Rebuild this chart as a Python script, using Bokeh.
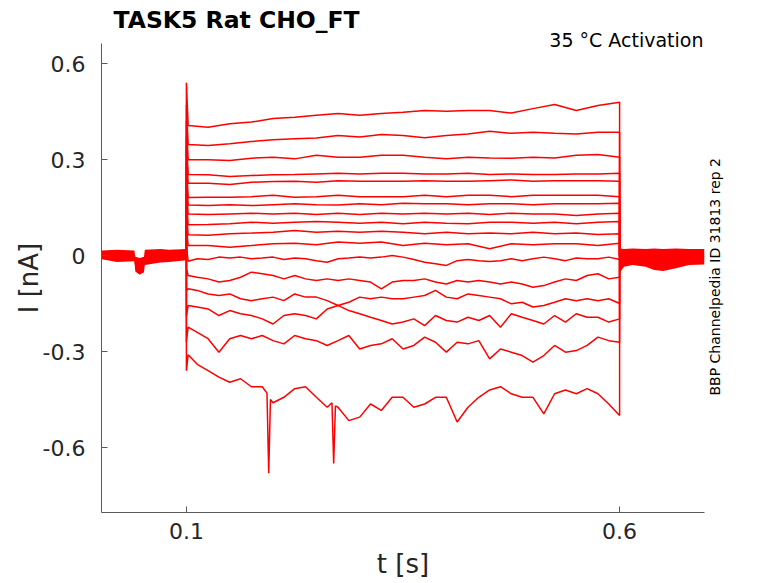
from bokeh.plotting import figure
from bokeh.models import Range1d, FixedTicker, ColumnDataSource, Title, LinearAxis
from bokeh.embed import file_html
from bokeh.resources import INLINE
import math

# ---------------- data ----------------
T_ON = 0.1
T_OFF = 0.6

# coarse time grid (small, smooth steps)
t_step = [0.102, 0.125, 0.150, 0.175, 0.200, 0.225, 0.250, 0.275, 0.300, 0.325,
          0.350, 0.375, 0.400, 0.425, 0.450, 0.475, 0.500, 0.525, 0.550, 0.575, 0.600]

# fine time grid (noisier, larger steps)
t_fine = [0.102, 0.1125, 0.125, 0.1375, 0.150, 0.1625, 0.175, 0.1875, 0.200, 0.2125,
          0.225, 0.2375, 0.250, 0.2625, 0.275, 0.2875, 0.300, 0.3125, 0.325, 0.3375,
          0.350, 0.3625, 0.375, 0.3875, 0.400, 0.4125, 0.425, 0.4375, 0.450, 0.4625,
          0.475, 0.4875, 0.500, 0.5125, 0.525, 0.5375, 0.550, 0.5625, 0.575, 0.5875, 0.600]

spike_on = [0.54, 0.47, 0.42, 0.37, 0.34, 0.29, 0.26, 0.22, 0.18, 0.14, 0.09,
            0.03, -0.04, -0.11, -0.19, -0.27, -0.36]

trace_01 = [0.406, 0.401, 0.412, 0.417, 0.428, 0.432, 0.438, 0.444, 0.438, 0.444, 0.448, 0.453, 0.451, 0.453, 0.453, 0.445, 0.459, 0.472, 0.453, 0.469, 0.479]
trace_02 = [0.347, 0.344, 0.349, 0.356, 0.362, 0.365, 0.367, 0.375, 0.370, 0.378, 0.375, 0.368, 0.375, 0.380, 0.388, 0.382, 0.385, 0.382, 0.380, 0.385, 0.385]
trace_03 = [0.299, 0.299, 0.297, 0.304, 0.307, 0.302, 0.313, 0.307, 0.307, 0.313, 0.313, 0.307, 0.302, 0.307, 0.305, 0.304, 0.307, 0.305, 0.313, 0.316, 0.307]
trace_04 = [0.253, 0.252, 0.247, 0.250, 0.252, 0.253, 0.255, 0.257, 0.255, 0.257, 0.257, 0.255, 0.255, 0.257, 0.253, 0.255, 0.253, 0.253, 0.255, 0.255, 0.257]
trace_05 = [0.226, 0.226, 0.222, 0.229, 0.231, 0.232, 0.229, 0.234, 0.232, 0.232, 0.232, 0.234, 0.232, 0.232, 0.234, 0.236, 0.232, 0.234, 0.234, 0.234, 0.232]
trace_06 = [0.181, 0.182, 0.182, 0.184, 0.188, 0.182, 0.184, 0.188, 0.184, 0.184, 0.184, 0.188, 0.184, 0.188, 0.188, 0.184, 0.188, 0.188, 0.188, 0.188, 0.184]
trace_07 = [0.158, 0.156, 0.159, 0.156, 0.159, 0.162, 0.159, 0.158, 0.162, 0.159, 0.163, 0.162, 0.162, 0.159, 0.162, 0.162, 0.159, 0.162, 0.162, 0.162, 0.163]
trace_08 = [0.130, 0.128, 0.130, 0.132, 0.130, 0.132, 0.128, 0.132, 0.128, 0.132, 0.130, 0.132, 0.130, 0.132, 0.128, 0.132, 0.130, 0.130, 0.125, 0.130, 0.132]
trace_09 = [0.096, 0.097, 0.099, 0.104, 0.101, 0.104, 0.106, 0.104, 0.101, 0.104, 0.099, 0.104, 0.101, 0.099, 0.104, 0.104, 0.101, 0.104, 0.099, 0.104, 0.106]
trace_10 = [0.065, 0.063, 0.068, 0.070, 0.073, 0.078, 0.073, 0.076, 0.073, 0.076, 0.073, 0.068, 0.073, 0.068, 0.070, 0.068, 0.073, 0.068, 0.070, 0.066, 0.068]
trace_11 = [0.031, 0.031, 0.026, 0.031, 0.037, 0.038, 0.034, 0.042, 0.038, 0.042, 0.031, 0.038, 0.034, 0.037, 0.021, 0.037, 0.034, 0.037, 0.037, 0.031, 0.038]

trace_12 = [-0.018, -0.010, -0.0125, -0.005, -0.008, -0.005, -0.010, -0.008, -0.005, -0.0125, -0.008,
            -0.010, -0.016, -0.021, -0.010, -0.008, -0.005, -0.008, -0.005, 0.000, -0.005,
            -0.0125, -0.021, -0.026, -0.031, -0.016, -0.0125, -0.016, -0.019, -0.016, -0.010,
            -0.016, -0.010, -0.005, -0.010, -0.016, -0.008, -0.010, -0.010, -0.005, -0.0125]
trace_13 = [-0.0625, -0.068, -0.073, -0.083, -0.078, -0.068, -0.052, -0.057, -0.0625, -0.073, -0.0625,
            -0.073, -0.078, -0.073, -0.078, -0.073, -0.078, -0.083, -0.104, -0.083, -0.078,
            -0.078, -0.073, -0.083, -0.089, -0.078, -0.083, -0.078, -0.083, -0.089, -0.083,
            -0.089, -0.099, -0.094, -0.083, -0.073, -0.078, -0.0625, -0.057, -0.073, -0.068]
trace_14 = [-0.104, -0.109, -0.120, -0.125, -0.120, -0.135, -0.141, -0.135, -0.130, -0.141, -0.120,
            -0.130, -0.130, -0.141, -0.156, -0.146, -0.130, -0.135, -0.130, -0.135, -0.135,
            -0.130, -0.125, -0.109, -0.130, -0.135, -0.120, -0.125, -0.130, -0.135, -0.151,
            -0.146, -0.161, -0.156, -0.146, -0.135, -0.141, -0.135, -0.141, -0.135, -0.150]
trace_15 = [-0.156, -0.161, -0.167, -0.1875, -0.172, -0.182, -0.1875, -0.198, -0.214, -0.1875, -0.182,
            -0.1875, -0.198, -0.167, -0.156, -0.172, -0.182, -0.193, -0.203, -0.214, -0.208,
            -0.198, -0.219, -0.1875, -0.203, -0.208, -0.193, -0.203, -0.1875, -0.224, -0.182,
            -0.193, -0.203, -0.214, -0.1875, -0.208, -0.182, -0.193, -0.193, -0.208, -0.198]
trace_16 = [-0.224, -0.240, -0.260, -0.302, -0.260, -0.250, -0.260, -0.250, -0.266, -0.276, -0.250,
            -0.260, -0.266, -0.281, -0.266, -0.250, -0.292, -0.281, -0.276, -0.260, -0.292,
            -0.281, -0.255, -0.271, -0.302, -0.271, -0.276, -0.266, -0.323, -0.292, -0.302,
            -0.3125, -0.333, -0.3125, -0.281, -0.302, -0.297, -0.281, -0.255, -0.266, -0.271]

# largest step: read at a finer time grid, including the two sharp dips
t_17 = [0.102, 0.1125, 0.125, 0.1375, 0.150, 0.1625, 0.175, 0.1875, 0.193, 0.195, 0.197,
        0.200, 0.2125, 0.225, 0.2375, 0.250, 0.2625, 0.268, 0.270, 0.272, 0.275, 0.2875,
        0.300, 0.3125, 0.325, 0.3375, 0.350, 0.3625, 0.375, 0.3875, 0.400, 0.4125, 0.425,
        0.4375, 0.450, 0.4625, 0.475, 0.4875, 0.500, 0.5125, 0.525, 0.5375, 0.550, 0.5625,
        0.575, 0.5875, 0.600]
trace_17 = [-0.310, -0.340, -0.360, -0.380, -0.396, -0.385, -0.410, -0.410, -0.430, -0.680, -0.450,
            -0.460, -0.443, -0.416, -0.410, -0.443, -0.474, -0.460, -0.650, -0.470, -0.474, -0.516,
            -0.505, -0.464, -0.484, -0.443, -0.443, -0.474, -0.464, -0.443, -0.443, -0.520, -0.474,
            -0.443, -0.420, -0.410, -0.432, -0.443, -0.443, -0.495, -0.432, -0.420, -0.432, -0.416,
            -0.432, -0.464, -0.500]

# holding-current noise band before and after the step
pre_t = [0.002, 0.020, 0.040, 0.041, 0.046, 0.051, 0.052, 0.070, 0.080, 0.100]
pre_hi = [0.016, 0.018, 0.016, -0.004, -0.008, -0.004, 0.018, 0.020, 0.018, 0.020]
pre_lo = [-0.012, -0.020, -0.018, -0.050, -0.060, -0.052, -0.030, -0.022, -0.020, -0.015]

post_t = [0.600, 0.605, 0.615, 0.630, 0.640, 0.650, 0.665, 0.680, 0.698]
post_hi = [0.022, 0.020, 0.022, 0.020, 0.022, 0.020, 0.022, 0.020, 0.020]
post_lo = [-0.055, -0.035, -0.030, -0.035, -0.045, -0.048, -0.040, -0.030, -0.028]

x_ticks = [0.1, 0.6]
y_ticks = [-0.6, -0.3, 0, 0.3, 0.6]
y_tick_labels = ["-0.6", "-0.3", "0", "0.3", "0.6"]

title_text = "TASK5  Rat  CHO_FT"
cond_text = "35 °C  Activation"
side_text = "BBP Channelpedia ID 31813 rep 2"
side_text_start = -0.4375   # current level where the vertical side note begins
x_label = "t [s]"
y_label = "I [nA]"

# ---------------- figure ----------------
FONT = "DejaVu Sans"
RED = "#ff0000"
AX = "#5a5a5a"
TXT = "#262626"

p = figure(width=778, height=583, output_backend="svg", toolbar_location=None,
           title=None,
           x_range=Range1d(0.002, 0.698), y_range=Range1d(-0.803, 0.6625),
           min_border_left=101, min_border_right=74, min_border_top=43,
           min_border_bottom=71)
p.outline_line_color = None
p.grid.visible = False
p.background_fill_color = "white"
p.border_fill_color = "white"

# inner title (closest to the frame) first, then the main title above it
cond_title = Title(text=cond_text, align="right", offset=-5, standoff=0,
                   text_font=FONT, text_font_size="19px", text_font_style="normal",
                   text_color="black")
main_title = Title(text=title_text, align="left", offset=12, standoff=0,
                   text_font=FONT, text_font_size="23.5px", text_font_style="bold",
                   text_color="black")
try:
    cond_title.standoff = -15
    main_title.standoff = 1
except Exception:
    pass
p.add_layout(cond_title, "above")
p.add_layout(main_title, "above")

for ax in (p.xaxis[0], p.yaxis[0]):
    ax.axis_line_color = AX
    ax.axis_line_width = 1
    ax.major_tick_line_color = AX
    ax.major_tick_in = 6
    ax.major_tick_out = 0
    ax.minor_tick_line_color = None
    ax.major_label_text_font = FONT
    ax.major_label_text_font_size = "22px"
    ax.major_label_text_color = TXT
    ax.axis_label_text_font = FONT
    ax.axis_label_text_font_size = "26px"
    ax.axis_label_text_font_style = "normal"
    ax.axis_label_text_color = TXT

p.xaxis.ticker = FixedTicker(ticks=x_ticks)
p.xaxis.major_label_standoff = 10
p.xaxis.axis_label = x_label
p.xaxis.axis_label_standoff = 7

p.yaxis.ticker = FixedTicker(ticks=y_ticks)
p.yaxis.major_label_overrides = {v: s for v, s in zip(y_ticks, y_tick_labels)}
p.yaxis.major_label_standoff = 16
p.yaxis.axis_label = y_label
p.yaxis.axis_label_standoff = 1
try:
    p.yaxis.axis_label_standoff = -4
except Exception:
    pass

# vertical note on the right: a single rotated tick label of an otherwise empty axis
side_axis = LinearAxis(ticker=FixedTicker(ticks=[side_text_start]),
                       major_label_overrides={side_text_start: side_text},
                       major_label_orientation=math.pi / 2,
                       axis_line_color=None, major_tick_line_color=None,
                       minor_tick_line_color=None, major_tick_in=0, major_tick_out=0,
                       major_label_standoff=11,
                       major_label_text_font=FONT, major_label_text_font_size="14px",
                       major_label_text_color="black")
p.add_layout(side_axis, "right")

# noise bands of the holding current
p.varea(x=pre_t, y1=pre_lo, y2=pre_hi, fill_color=RED)
p.varea(x=post_t, y1=post_lo, y2=post_hi, fill_color=RED)
p.line(x=pre_t, y=[(a + b) / 2 for a, b in zip(pre_hi, pre_lo)], line_color=RED, line_width=1.2)
p.line(x=post_t, y=[(a + b) / 2 for a, b in zip(post_hi, post_lo)], line_color=RED, line_width=1.2)

coarse = [trace_01, trace_02, trace_03, trace_04, trace_05, trace_06, trace_07, trace_08,
          trace_09, trace_10, trace_11]
fine = [trace_12, trace_13, trace_14, trace_15, trace_16]
xs, ys = [], []
for i, vals in enumerate(coarse):
    xs.append([T_ON, T_ON] + t_step + [T_OFF])
    ys.append([0.0, spike_on[i]] + vals + [0.0])
for j, vals in enumerate(fine):
    xs.append([T_ON, T_ON] + t_fine + [T_OFF])
    ys.append([0.0, spike_on[11 + j]] + vals + [0.0])
xs.append([T_ON, T_ON] + t_17 + [T_OFF])
ys.append([0.0, spike_on[16]] + trace_17 + [0.0])

src = ColumnDataSource(data=dict(xs=xs, ys=ys))
p.multi_line(xs="xs", ys="ys", source=src, line_color=RED, line_width=1.5)

open("out.html", "w").write(file_html(p, INLINE))
